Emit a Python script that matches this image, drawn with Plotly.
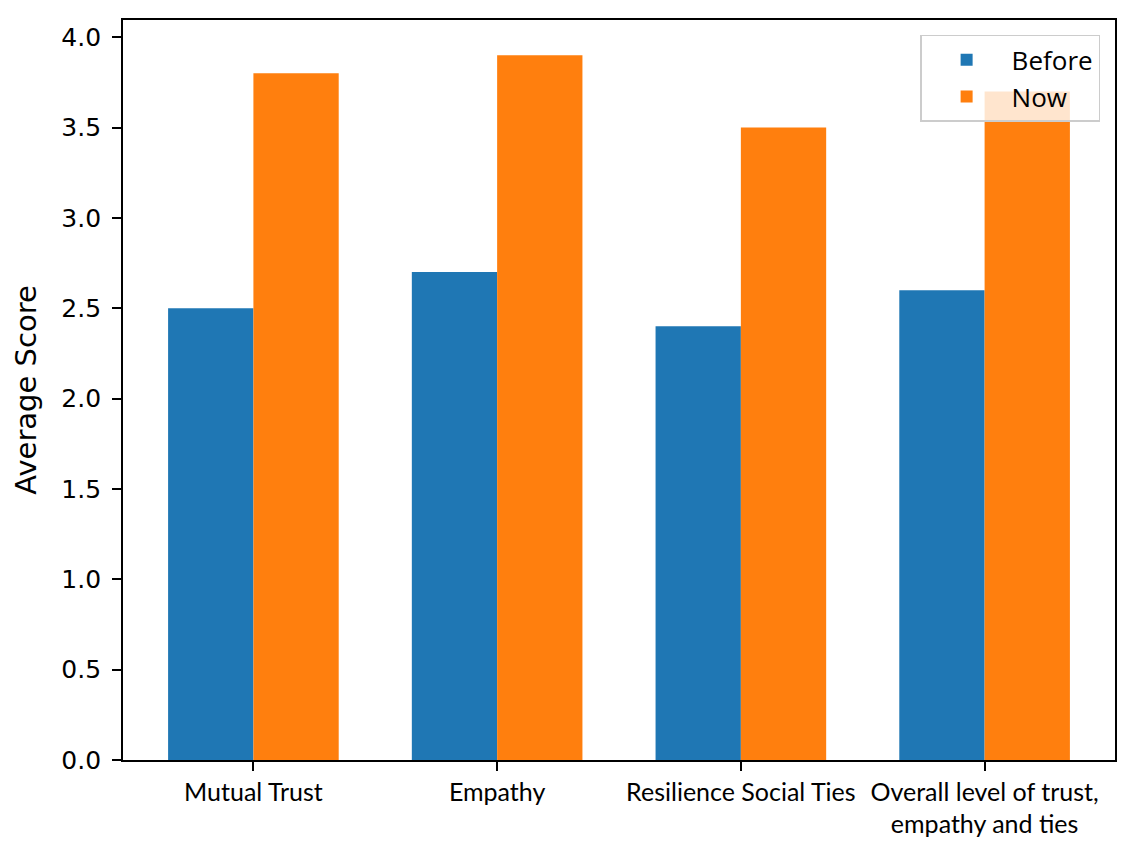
import plotly.graph_objects as go

categories = ["Mutual Trust", "Empathy", "Resilience Social Ties",
              "Overall level of trust,<br>empathy and ties"]
before_scores = [2.5, 2.7, 2.4, 2.6]
now_scores = [3.8, 3.9, 3.5, 3.7]
y_ticks = [0.0, 0.5, 1.0, 1.5, 2.0, 2.5, 3.0, 3.5, 4.0]

fig = go.Figure()
fig.add_trace(go.Bar(x=categories, y=before_scores, name="Before",
                     marker=dict(color="#1f77b4", line=dict(width=0))))
fig.add_trace(go.Bar(x=categories, y=now_scores, name="Now",
                     marker=dict(color="#ff7f0e", line=dict(width=0))))

# page body adds an 8px offset, margins are trimmed to compensate
fig.update_layout(
    width=1141, height=855,
    margin=dict(l=115, r=34, t=12, b=103),
    paper_bgcolor="white", plot_bgcolor="white",
    barmode="group", bargap=0.3, bargroupgap=0,
    font=dict(family="DejaVu Sans", size=24, color="black"),
    legend=dict(x=0.985, y=0.98, xanchor="right", yanchor="top",
                bgcolor="rgba(255,255,255,0.8)", bordercolor="#cccccc",
                borderwidth=1.5, font=dict(family="Open Sans", size=26),
                itemwidth=80, tracegroupgap=6),
)
fig.update_xaxes(
    range=[-0.535, 3.535], automargin=False,
    showline=True, linecolor="black", linewidth=1.8, mirror=True,
    ticks="outside", ticklen=9, tickwidth=1.5, tickcolor="black",
    tickfont=dict(family="Lato", size=25),
    showgrid=False,
)
fig.update_yaxes(
    range=[0, 4.095], automargin=False,
    tickvals=y_ticks, ticktext=["%.1f" % v for v in y_ticks],
    tickfont=dict(family="DejaVu Sans", size=25), ticklabelstandoff=6,
    showline=True, linecolor="black", linewidth=1.8, mirror=True,
    ticks="outside", ticklen=9, tickwidth=1.5, tickcolor="black",
    showgrid=False, zeroline=False,
    title=dict(text="Average Score", standoff=16),
)

fig.write_html("out.html")
